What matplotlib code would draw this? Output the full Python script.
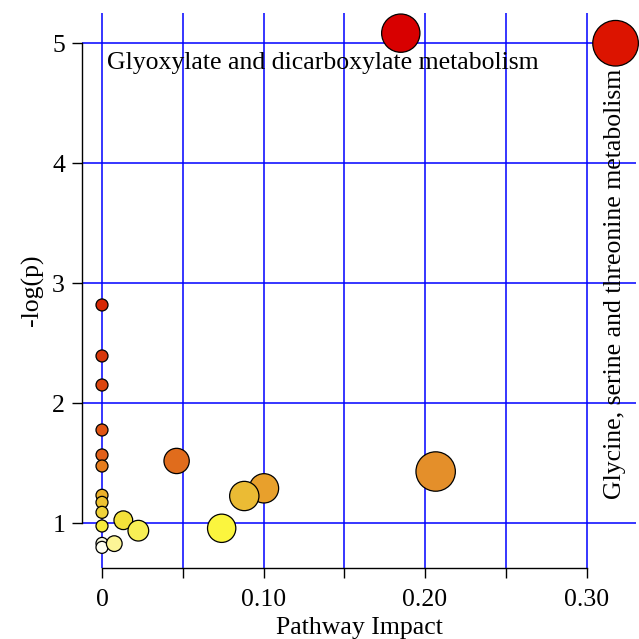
import matplotlib
matplotlib.use("Agg")
import matplotlib.pyplot as plt

# pathway impact vs -log(p)
impact = [0.0, 0.0, 0.0, 0.0, 0.0, 0.0, 0.0, 0.0, 0.0, 0.0, 0.0, 0.0,
          0.0132, 0.0225, 0.0076, 0.0462, 0.0741, 0.1003, 0.0881,
          0.2066, 0.1850, 0.3180]
neglogp = [2.817, 2.392, 2.150, 1.775, 1.567, 1.475, 1.231, 1.172, 1.089, 0.975, 0.830, 0.797,
           1.023, 0.936, 0.828, 1.517, 0.956, 1.289, 1.225,
           1.429, 5.082, 4.998]
# marker diameters in pixels, as drawn
diam_px = [12, 12, 12, 12, 12, 12, 12, 12, 12, 12, 12, 12,
           18.7, 20.7, 15.7, 25.3, 28.3, 29.3, 29.3,
           39.4, 38.3, 45.6]
point_colors = ["#d72805", "#d8370a", "#dc460f", "#e05514", "#e1601a", "#e67d1e",
                "#ebb02a", "#edc232", "#f0d23a", "#f6ea3c", "#fafae0", "#fffff0",
                "#f3e13a", "#f8ef55", "#fcf596", "#e06c1c", "#fbf53e", "#e8a02c", "#ebbb34",
                "#e48f2a", "#d80000", "#dc1400"]

labels = ["Glyoxylate and dicarboxylate metabolism",
          "Glycine, serine and threonine metabolism"]

plt.rcParams["font.family"] = ["Liberation Serif", "DejaVu Serif"]

DPI = 100
FS = 18.5
fig = plt.figure(figsize=(6.39, 6.39), dpi=DPI)
ax = fig.add_axes([82 / 639, 71 / 639, 554 / 639, 555 / 639])

ax.set_xlim(-20 / 1615, 534 / 1615)
ax.set_ylim(0.625, 5.25)

ax.set_xticks([0, 0.05, 0.10, 0.15, 0.20, 0.25, 0.30])
ax.set_xticklabels(["0", "", "0.10", "", "0.20", "", "0.30"])
ax.set_yticks([1, 2, 3, 4, 5])
ax.set_yticklabels(["1", "2", "3", "4", "5"])
ax.grid(True, color="#0000ff", linewidth=1.1)
ax.set_axisbelow(True)

for side in ("top", "right"):
    ax.spines[side].set_visible(False)
ax.spines["left"].set_bounds(1, 5)
ax.spines["bottom"].set_bounds(0, 0.30)
ax.spines["left"].set_linewidth(1.0)
ax.spines["bottom"].set_linewidth(1.0)
ax.tick_params(axis="both", direction="out", length=7.2, width=1.0, labelsize=FS)
ax.tick_params(axis="x", pad=8)
ax.tick_params(axis="y", pad=5)

sizes = [(d * 72 / DPI) ** 2 for d in diam_px]
ax.scatter(impact, neglogp, s=sizes, c=point_colors, edgecolors="black",
           linewidths=0.9, zorder=3, clip_on=False)

ax.text(0.0031, 4.835, labels[0], fontsize=FS, ha="left", va="center", zorder=4)
ax.text(0.3175, 2.99, labels[1], fontsize=FS, ha="center", va="center",
        rotation=90, zorder=4)

ax.set_xlabel("Pathway Impact", fontsize=FS, labelpad=4)
ax.set_ylabel("-log(p)", fontsize=FS, labelpad=6)

fig.savefig("out.png", dpi=DPI)
